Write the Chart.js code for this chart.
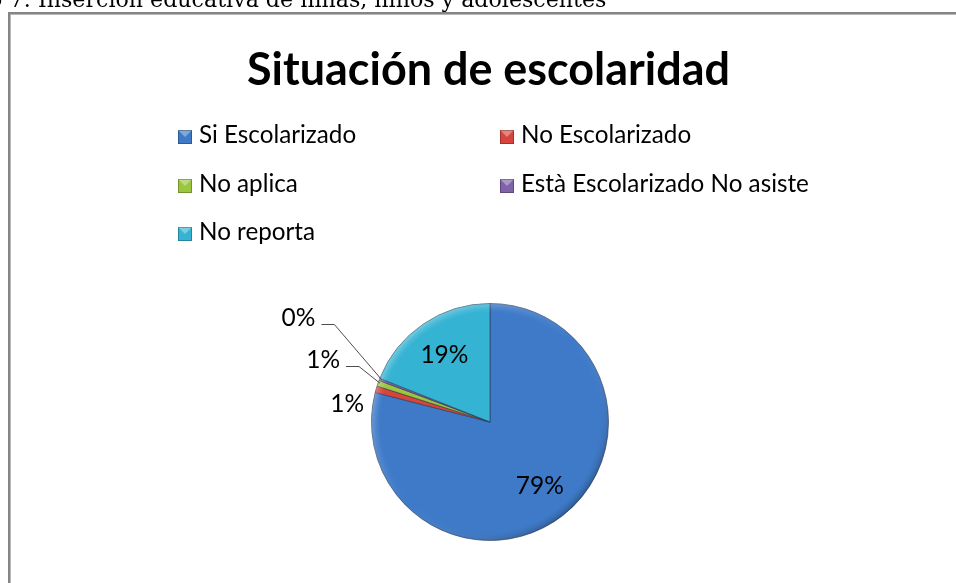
<!DOCTYPE html>
<html><head><meta charset="utf-8">
<script src="https://cdn.jsdelivr.net/npm/chart.js@4.4.1/dist/chart.umd.min.js"></script>
<style>
html,body{margin:0;padding:0;background:#fff;}
#wrap{position:relative;width:956px;height:583px;overflow:hidden;}
#frame{position:absolute;left:8px;top:12px;width:1000px;height:700px;border-top:2px solid #858585;border-left:2px solid #858585;box-shadow:inset 1px 1px 0 #b8b8b8;}
#c{position:absolute;left:0;top:0;}
</style></head><body>
<div id="wrap"><div id="frame"></div><canvas id="c" width="956" height="583"></canvas></div>
<script>
const chartTitle = 'Situación de escolaridad';
const captionPrefix = 'Gráfico 7: ';
const captionText = 'Inserción educativa de niñas, niños y adolescentes';
const categories = ['Si Escolarizado', 'No Escolarizado', 'No aplica', 'Està Escolarizado No asiste', 'No reporta'];
const values = [79.0, 0.9, 0.8, 0.3, 19.0];
const colors = ['#3E7AC8', '#D6443C', '#9CC63E', '#8062A8', '#35B3D3'];

function fitSize(ctx, text, weight, family, targetW) {
  ctx.font = weight + ' 40px ' + family;
  return 40 * targetW / ctx.measureText(text).width;
}

const deco = {
  id: 'deco',
  afterDatasetsDraw(chart) {
    const ctx = chart.ctx;
    const meta = chart.getDatasetMeta(0);
    const a0 = meta.data[0];
    const cx = a0.x, cy = a0.y, R = a0.outerRadius;
    ctx.save();
    // bevel-like rim shading
    const N = 9;
    for (let k = 0; k < N; k++) {
      ctx.beginPath();
      ctx.arc(cx, cy, R - k, 0, Math.PI * 2);
      ctx.arc(cx, cy, R - k - 1, 0, Math.PI * 2, true);
      ctx.closePath();
      const g = ctx.createLinearGradient(cx - R * 0.7, cy - R * 0.7, cx + R * 0.7, cy + R * 0.7);
      const f = Math.pow((N - k) / N, 1.5);
      g.addColorStop(0, 'rgba(255,255,255,' + (0.32 * f) + ')');
      g.addColorStop(0.5, 'rgba(255,255,255,0)');
      g.addColorStop(1, 'rgba(0,0,0,' + (0.26 * f) + ')');
      ctx.fillStyle = g;
      ctx.fill();
    }
    ctx.restore();
  },
  afterDraw(chart) {
    const ctx = chart.ctx;
    ctx.save();
    // caption (cut at top)
    const capFam = '"DejaVu Serif"';
    const capSize = fitSize(ctx, captionText, 'normal', capFam, 569);
    ctx.font = 'normal ' + capSize + 'px ' + capFam;
    ctx.fillStyle = '#000';
    ctx.textBaseline = 'alphabetic';
    ctx.textAlign = 'left';
    const pw = ctx.measureText(captionPrefix).width;
    ctx.fillText(captionPrefix + captionText, 38 - pw, 7);

    // title
    const tSize = fitSize(ctx, chartTitle, 'bold', 'Lato', 483);
    ctx.font = 'bold ' + tSize + 'px Lato';
    ctx.textAlign = 'center';
    ctx.fillText(chartTitle, 488.5, 85);

    // legend (2 columns)
    const lSize = fitSize(ctx, categories[3], 'normal', 'Lato', 288);
    ctx.font = 'normal ' + lSize + 'px Lato';
    ctx.textAlign = 'left';
    const colX = [178, 500];
    const rowY = [143, 192, 240];
    categories.forEach((lab, i) => {
      const x = colX[i % 2], y = rowY[Math.floor(i / 2)];
      const sq = 14, sy = y - 13;
      ctx.fillStyle = colors[i];
      ctx.fillRect(x, sy, sq, sq);
      ctx.fillStyle = 'rgba(255,255,255,0.35)';
      ctx.beginPath(); ctx.moveTo(x, sy); ctx.lineTo(x + sq, sy); ctx.lineTo(x + sq / 2, sy + sq / 2); ctx.closePath(); ctx.fill();
      ctx.strokeStyle = 'rgba(0,0,0,0.25)'; ctx.lineWidth = 1;
      ctx.strokeRect(x + 0.5, sy + 0.5, sq - 1, sq - 1);
      ctx.fillStyle = '#000';
      ctx.fillText(lab, x + 21, y);
    });

    // data labels
    const meta = chart.getDatasetMeta(0);
    const total = values.reduce((a, b) => a + b, 0);
    const dSize = fitSize(ctx, '79%', 'normal', 'Lato', 48);
    ctx.font = 'normal ' + dSize + 'px Lato';
    ctx.textBaseline = 'middle';
    let k = 0;
    meta.data.forEach((arc, i) => {
      const p = arc.getProps(['x', 'y', 'startAngle', 'endAngle', 'outerRadius'], true);
      const mid = (p.startAngle + p.endAngle) / 2;
      const frac = values[i] / total;
      const txt = Math.round(frac * 100) + '%';
      ctx.fillStyle = '#000';
      if (frac >= 0.05) {
        const r = p.outerRadius * 0.685;
        ctx.textAlign = 'center';
        ctx.fillText(txt, p.x + r * Math.cos(mid), p.y + r * Math.sin(mid));
      } else {
        const ax = p.x + p.outerRadius * Math.cos(mid);
        const ay = p.y + p.outerRadius * Math.sin(mid);
        const right = ax - 12 - 26 * k;
        const yc = ay + 15 - 38 * k;
        ctx.textAlign = 'right';
        ctx.fillText(txt, right, yc);
        if (k > 0) {
          const ly = Math.round(yc + 6) + 0.5;
          ctx.strokeStyle = '#4d4d4d';
          ctx.lineWidth = 1;
          ctx.beginPath();
          ctx.moveTo(right + 6, ly);
          ctx.lineTo(right + 19, ly);
          ctx.lineTo(ax + 2, ay);
          ctx.stroke();
        }
        k++;
      }
    });
    ctx.restore();
  }
};

new Chart(document.getElementById('c'), {
  type: 'pie',
  data: {
    labels: categories,
    datasets: [{
      data: values,
      backgroundColor: colors,
      borderColor: 'rgba(40,55,80,0.6)',
      borderWidth: 1
    }]
  },
  options: {
    responsive: false,
    animation: false,
    rotation: 0,
    layout: { padding: { left: 371, right: 347, top: 303, bottom: 42 } },
    plugins: { legend: { display: false }, title: { display: false }, tooltip: { enabled: false } }
  },
  plugins: [deco]
});
</script>
</body></html>
